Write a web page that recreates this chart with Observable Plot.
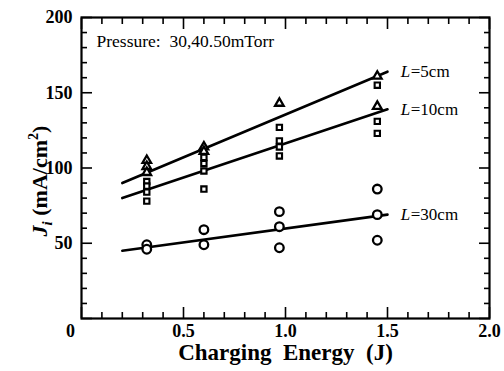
<!DOCTYPE html>
<html><head><meta charset="utf-8">
<script src="https://cdn.jsdelivr.net/npm/d3@7"></script>
<script src="https://cdn.jsdelivr.net/npm/@observablehq/plot@0.6"></script>
<style>
body{margin:0;background:#fff}
#chart svg{font-family:"Liberation Serif","Times New Roman",serif;}
</style>
</head><body><div id="chart"></div>
<script>
// ---- data ----
const triangleX = [0.32, 0.32, 0.32, 0.6, 0.6, 0.97, 1.45, 1.45];
const triangleY = [105, 101, 97, 114, 111, 143, 161, 141];
const squareX = [0.32, 0.32, 0.32, 0.32, 0.6, 0.6, 0.6, 0.6, 0.97, 0.97, 0.97, 0.97, 1.45, 1.45, 1.45];
const squareY = [91, 88, 84, 78, 107, 103, 98, 86, 127, 118, 114, 108, 155, 131, 123];
const circleX = [0.32, 0.32, 0.6, 0.6, 0.97, 0.97, 0.97, 1.45, 1.45, 1.45];
const circleY = [49, 46, 59, 49, 71, 61, 47, 86, 69, 52];
const fitX = [0.2, 1.5];
const fitL5 = [90, 164];
const fitL10 = [80, 139];
const fitL30 = [45, 69];
const seriesNames = ["L5", "L10", "L30"];
const labelRest = ["=5cm", "=10cm", "=30cm"];
const labelX = 1.565;
const xMajor = [0, 0.5, 1.0, 1.5, 2.0];
const xMinor = [0.1, 0.2, 0.3, 0.4, 0.6, 0.7, 0.8, 0.9, 1.1, 1.2, 1.3, 1.4, 1.6, 1.7, 1.8, 1.9];
const yMajor = [0, 50, 100, 150, 200];
const yMinor = [10, 20, 30, 40, 60, 70, 80, 90, 110, 120, 130, 140, 160, 170, 180, 190];
const xTickLabels = ["0", "0.5", "1.0", "1.5", "2.0"];
const yTickLabels = ["0", "50", "100", "150", "200"];
const xTitle = "Charging  Energy  (J)";
const yTitle = "Ji (mA/cm2)";
const note = "Pressure:  30,40.50mTorr";

// ---- build ----
const fits = [fitL5, fitL10, fitL30];
const lineData = [];
seriesNames.forEach((s, i) => fitX.forEach((x, j) => lineData.push({s, x, y: fits[i][j]})));
const labelData = seriesNames.map((s, i) => ({s, x: labelX, y: fits[i][1], rest: labelRest[i]}));
const tri = triangleX.map((x, i) => ({x, y: triangleY[i]}));
const sq = squareX.map((x, i) => ({x, y: squareY[i]}));
const ci = circleX.map((x, i) => ({x, y: circleY[i]}));

const tickStyle = {stroke: "black", strokeWidth: 1.6, tickFormat: () => "", label: null};
const txt = {fontFamily: "Liberation Serif", fill: "black"};

const chart = Plot.plot({
  width: 504, height: 371,
  marginLeft: 81, marginRight: 15, marginTop: 17, marginBottom: 53,
  x: {domain: [0, 2]},
  y: {domain: [0, 200]},
  style: {fontFamily: "Liberation Serif", color: "black", background: "white"},
  marks: [
    // inward ticks
    Plot.axisX({anchor: "bottom", ticks: xMinor, tickSize: -6, ...tickStyle}),
    Plot.axisX({anchor: "bottom", ticks: xMajor, tickSize: -11, ...tickStyle}),
    Plot.axisX({anchor: "top", ticks: xMinor, tickSize: -6, ...tickStyle}),
    Plot.axisX({anchor: "top", ticks: xMajor, tickSize: -11, ...tickStyle}),
    Plot.axisY({anchor: "left", ticks: yMinor, tickSize: -6, ...tickStyle}),
    Plot.axisY({anchor: "left", ticks: yMajor, tickSize: -11, ...tickStyle}),
    Plot.axisY({anchor: "right", ticks: yMinor, tickSize: -6, ...tickStyle}),
    Plot.axisY({anchor: "right", ticks: yMajor, tickSize: -11, ...tickStyle}),
    // tick labels
    Plot.axisX({anchor: "bottom", ticks: xMajor.slice(1), tickSize: 0, tickPadding: 6,
      tickFormat: d => xTickLabels[xMajor.indexOf(d)], label: null,
      fontSize: 18, fontWeight: "bold", ...txt}),
    Plot.axisX({anchor: "bottom", ticks: xMajor.slice(0, 1), tickSize: 0, tickPadding: 6, dx: -11,
      tickFormat: d => xTickLabels[xMajor.indexOf(d)], label: null,
      fontSize: 18, fontWeight: "bold", ...txt}),
    Plot.axisY({anchor: "left", ticks: yMajor.slice(1), tickSize: 0, tickPadding: 9,
      tickFormat: d => yTickLabels[yMajor.indexOf(d)], label: null,
      fontSize: 18, fontWeight: "bold", ...txt}),
    Plot.frame({stroke: "black", strokeWidth: 2.2}),
    // fits
    Plot.line(lineData, {x: "x", y: "y", z: "s", stroke: "black", strokeWidth: 2.6}),
    // points
    Plot.dot(tri, {x: "x", y: "y", symbol: "triangle", r: 3.2, stroke: "black", strokeWidth: 2.3, fill: "white"}),
    Plot.dot(sq, {x: "x", y: "y", symbol: "square", r: 3.0, stroke: "black", strokeWidth: 2.1, fill: "white"}),
    Plot.dot(ci, {x: "x", y: "y", symbol: "circle", r: 4.3, stroke: "black", strokeWidth: 2.3, fill: "white"}),
    // labels
    Plot.text(labelData, {x: "x", y: "y", text: () => "L", textAnchor: "start", fontStyle: "italic", fontSize: 17, ...txt}),
    Plot.text(labelData, {x: "x", y: "y", text: "rest", textAnchor: "start", dx: 10, fontSize: 17, ...txt}),
    Plot.text([note], {frameAnchor: "top-left", dx: 15, dy: 17, textAnchor: "start", lineAnchor: "top", fontSize: 17.5, ...txt}),
    Plot.text([xTitle], {frameAnchor: "bottom", dy: 34, textAnchor: "middle", lineAnchor: "middle", fontSize: 23, fontWeight: "bold", ...txt}),
    Plot.text([yTitle], {frameAnchor: "left", dx: -42, dy: 13, textAnchor: "middle", lineAnchor: "middle", rotate: -90, fontSize: 22, fontWeight: "bold", ...txt})
  ]
});
document.getElementById("chart").appendChild(chart);

// subscript / superscript in the y title
d3.select(chart).selectAll("text").filter(function() { return this.textContent === yTitle; })
  .each(function() {
    const t = d3.select(this);
    t.text(null);
    t.append("tspan").attr("font-style", "italic").text("J");
    t.append("tspan").attr("font-style", "italic").attr("font-size", 15).attr("dy", 5).text("i");
    t.append("tspan").attr("dy", -5).text(" (mA/cm");
    t.append("tspan").attr("font-size", 14).attr("dy", -9).text("2");
    t.append("tspan").attr("dy", 9).text(")");
  });
</script>
</body></html>
